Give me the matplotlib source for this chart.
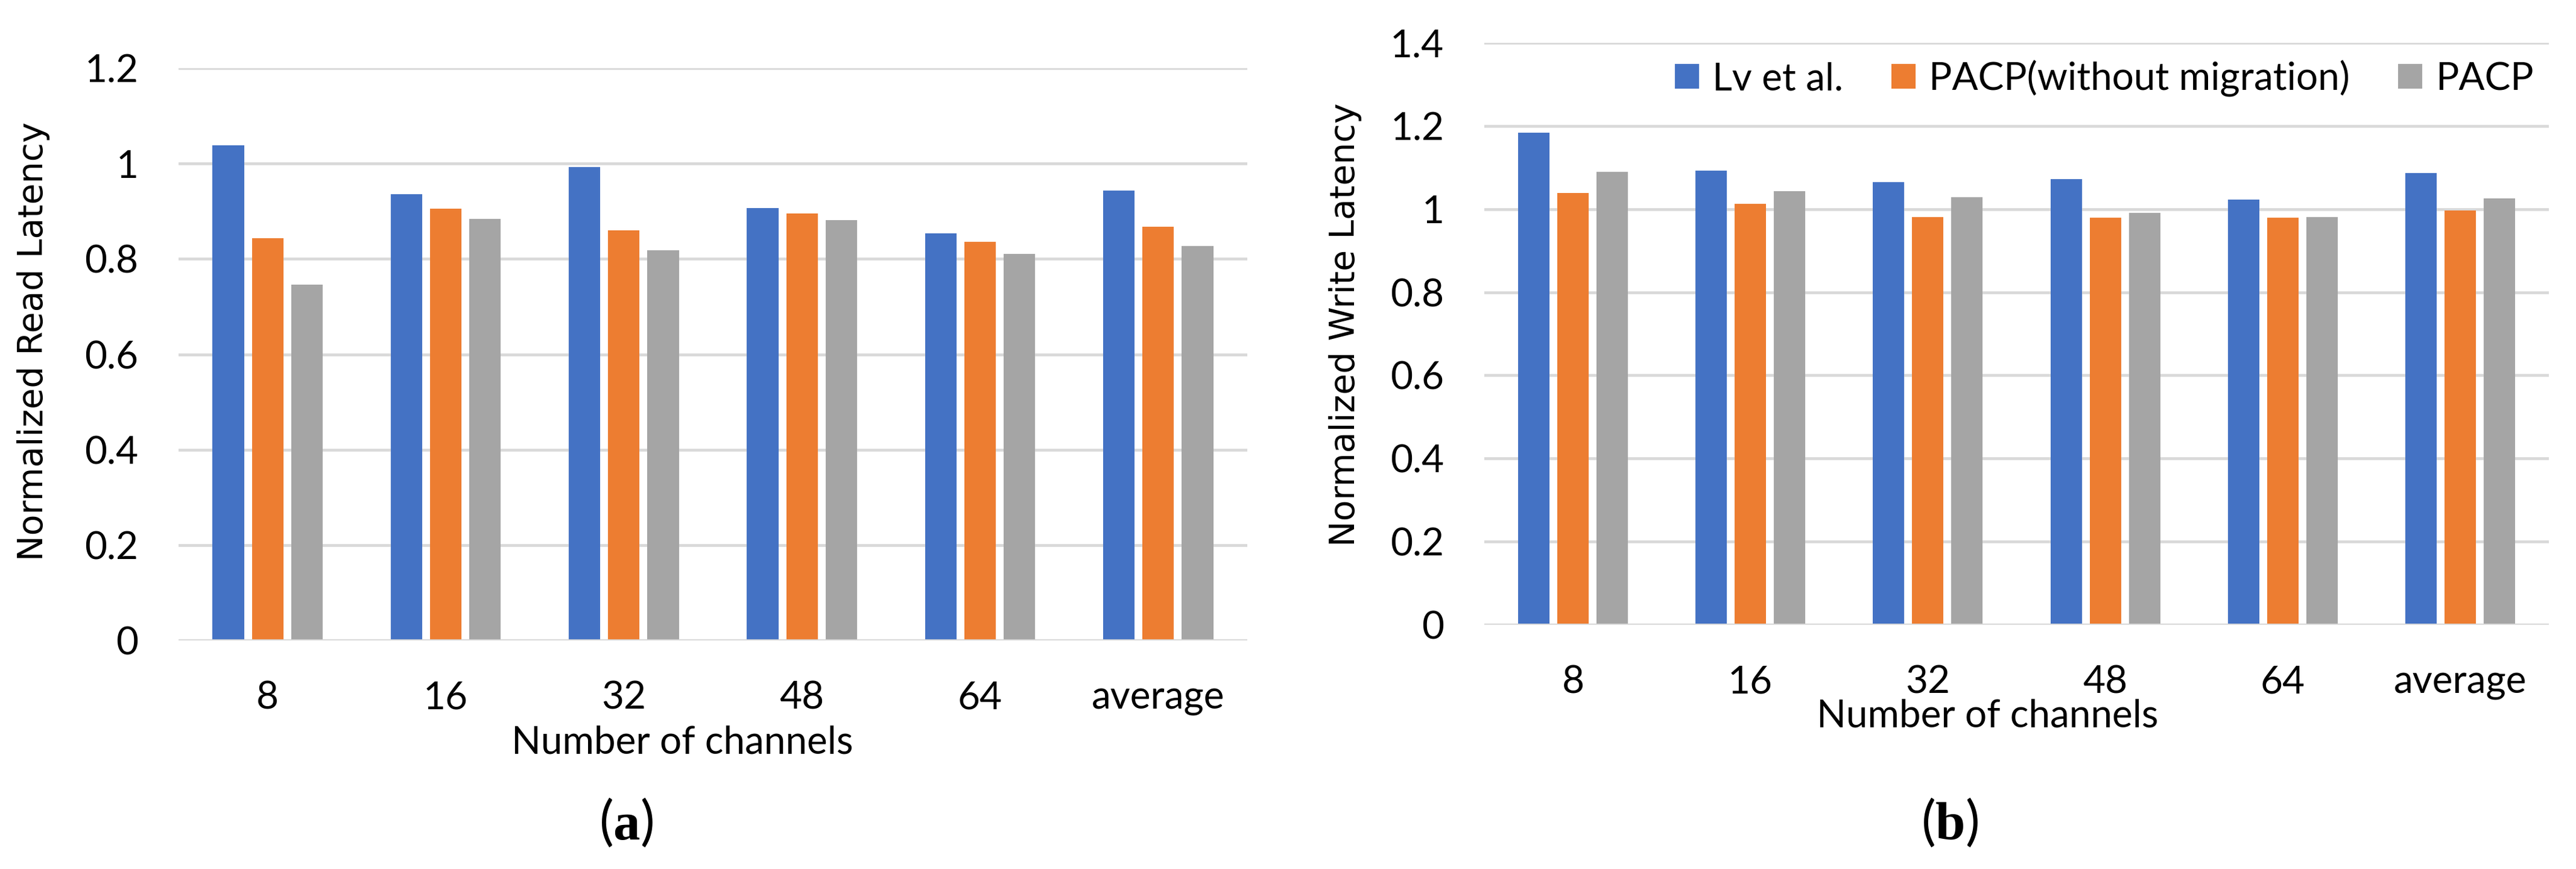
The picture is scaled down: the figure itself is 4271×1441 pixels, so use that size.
import numpy as np
import matplotlib
matplotlib.use('Agg')
import matplotlib.pyplot as plt

# data
categories = ['8', '16', '32', '48', '64', 'average']
series_names = ['Lv et al.', 'PACP(without migration)', 'PACP']
read_lv = [1.038, 0.936, 0.992, 0.907, 0.853, 0.943]
read_nomig = [0.844, 0.905, 0.860, 0.895, 0.836, 0.867]
read_pacp = [0.746, 0.884, 0.818, 0.881, 0.810, 0.827]
write_lv = [1.184, 1.092, 1.065, 1.072, 1.023, 1.087]
write_nomig = [1.039, 1.012, 0.981, 0.980, 0.979, 0.997]
write_pacp = [1.089, 1.043, 1.029, 0.991, 0.981, 1.025]

colors = ['#4472C4', '#ED7D31', '#A5A5A5']
grid_col = '#D9D9D9'

W, H = 4271, 1441
plt.rcParams['font.family'] = ['Lato', 'DejaVu Sans']
plt.rcParams['mathtext.fontset'] = 'custom'
plt.rcParams['mathtext.rm'] = 'Liberation Serif'
plt.rcParams['mathtext.bf'] = 'Liberation Serif:bold'

fig = plt.figure(figsize=(W / 100, H / 100), dpi=100)
fs = 46


def px_axes(x0, x1, ytop, ybot):
    return fig.add_axes([x0 / W, 1 - ybot / H, (x1 - x0) / W, (ybot - ytop) / H])


def draw_panel(ax, vals, ymax):
    x = np.arange(len(categories))
    width = 0.177
    step = 0.221
    for i, (v, c) in enumerate(zip(vals, colors)):
        ax.bar(x + (i - 1) * step, v, width, color=c, label=series_names[i], zorder=2)
    ax.set_xlim(-0.5, len(categories) - 0.5)
    ax.set_ylim(0, ymax)
    ax.set_yticks(np.arange(0, ymax + 0.01, 0.2))
    ax.set_yticklabels(['0'] + ['%g' % t for t in np.arange(0.2, ymax + 0.01, 0.2)])
    ax.set_xticks(x)
    ax.set_xticklabels(categories)
    ax.yaxis.grid(True, color=grid_col, linewidth=3.4, zorder=0)
    ax.set_axisbelow(True)
    ax.axhline(0, color=grid_col, linewidth=3.4, zorder=3)
    for s in ax.spines.values():
        s.set_visible(False)
    ax.tick_params(axis='both', length=0, labelsize=fs)
    ax.tick_params(axis='y', pad=48)
    ax.tick_params(axis='x', pad=48)


ax1 = px_axes(296, 2068, 113, 1062)
draw_panel(ax1, [read_lv, read_nomig, read_pacp], 1.2)

ax2 = px_axes(2461, 4226, 71, 1036)
draw_panel(ax2, [write_lv, write_nomig, write_pacp], 1.4)


def ftext(xp, yp, s, **kw):
    fig.text(xp / W, 1 - yp / H, s, ha='center', va='center', **kw)


ftext(56, 566, 'Normalized Read Latency', rotation=90, fontsize=41, family='DejaVu Sans')
ftext(2231, 538, 'Normalized Write Latency', rotation=90, fontsize=41, family='DejaVu Sans')
ftext(1131, 1232, 'Number of channels', fontsize=fs)
ftext(3295, 1188, 'Number of channels', fontsize=fs)
ftext(1038, 1365, r'($\mathbf{a}$)', fontsize=64)
ftext(3232, 1365, r'($\mathbf{b}$)', fontsize=64)

ax2.legend(loc='center', bbox_to_anchor=(3489 / W, 1 - 130 / H), bbox_transform=fig.transFigure,
           ncol=3, frameon=False, fontsize=fs, handlelength=0.62, handleheight=0.62,
           handletextpad=0.35, columnspacing=1.25, borderpad=0, borderaxespad=0)

fig.savefig('out.png', dpi=100)
